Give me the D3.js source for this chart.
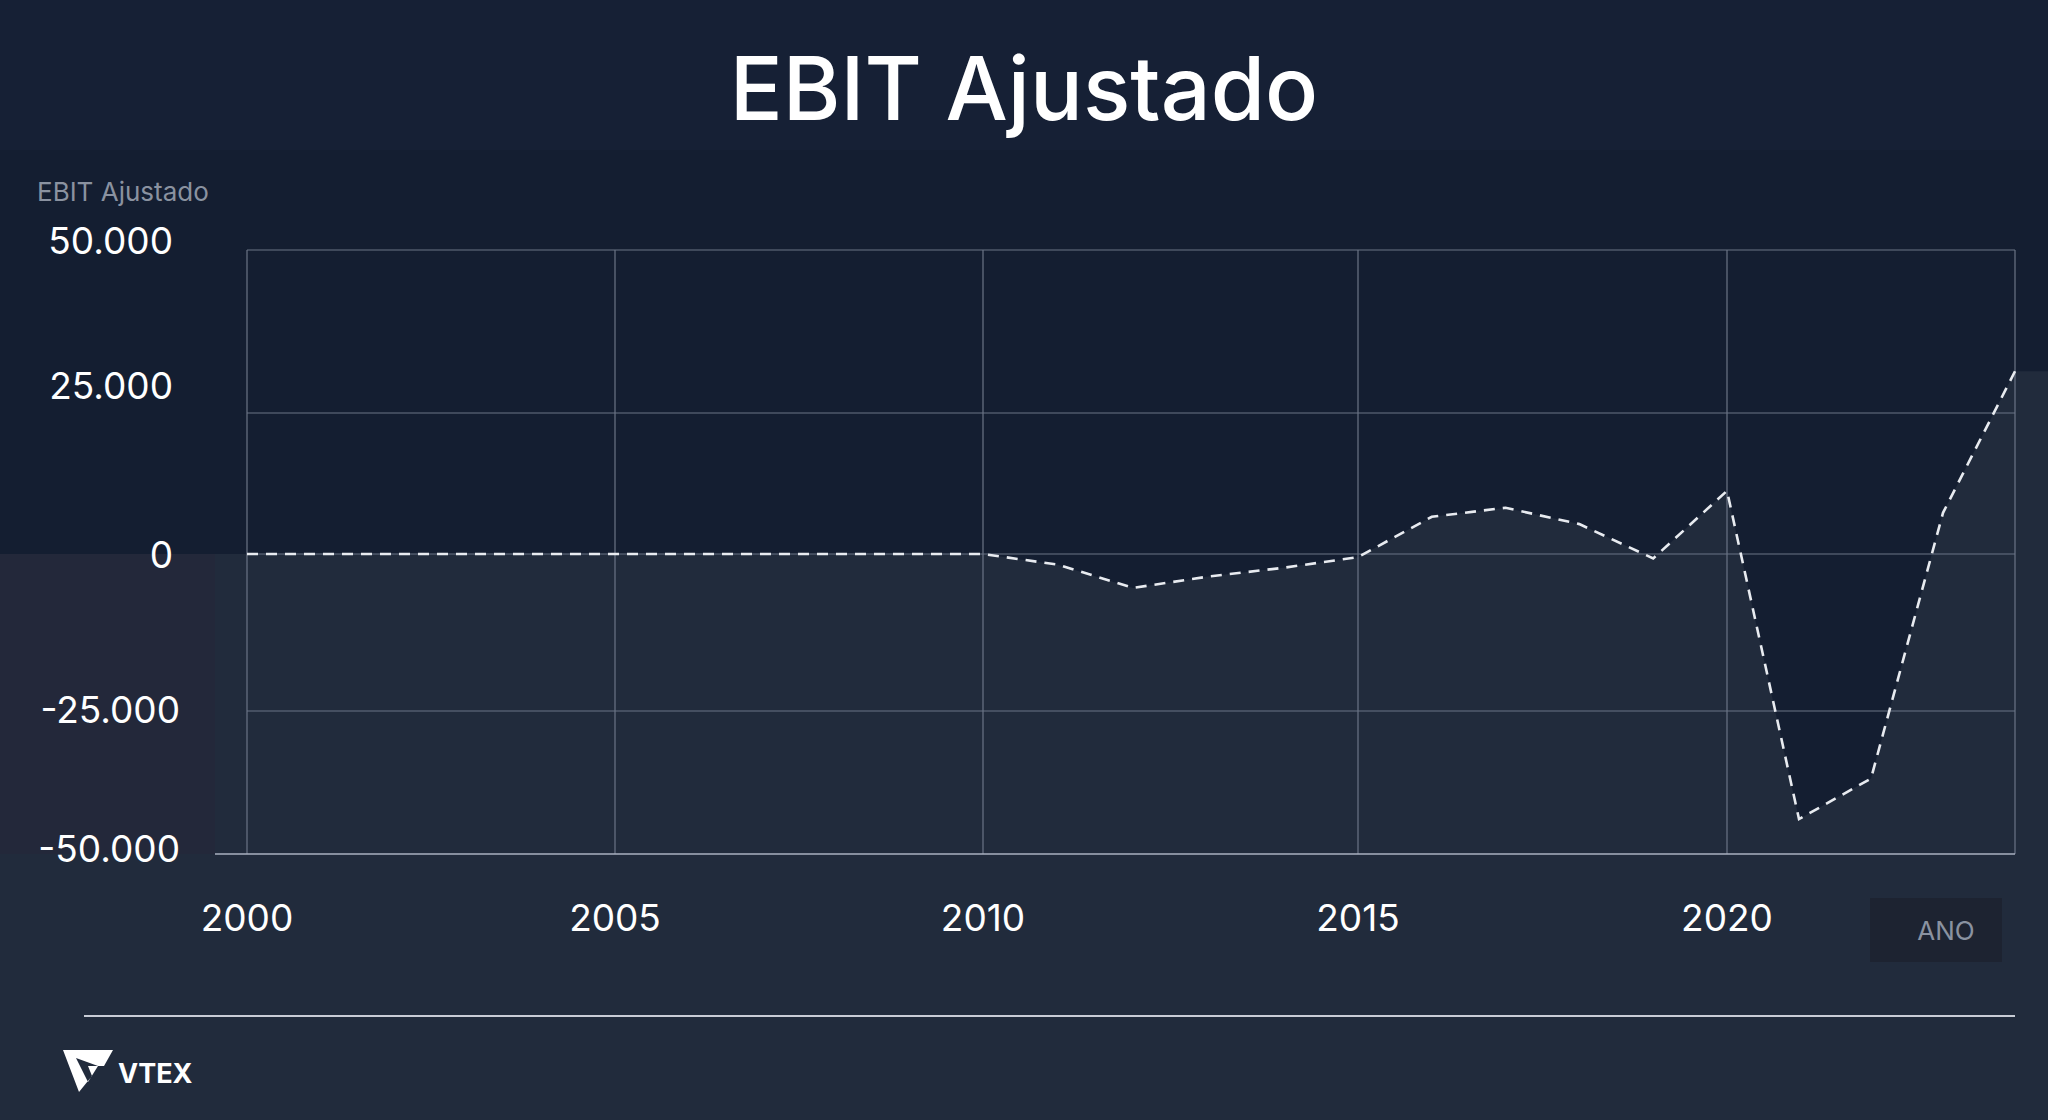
<!DOCTYPE html>
<html lang="pt">
<head>
  <meta charset="UTF-8">
  <title>EBIT Ajustado</title>
  <style>
    html, body { margin: 0; padding: 0; background: #141e31; }
    svg { display: block; }
  </style>
</head>
<body>
  <svg id="chart" width="2048" height="1120"></svg>
  <script src="https://cdn.jsdelivr.net/npm/d3@7/dist/d3.min.js"></script>
  <script>
    const years = [2000, 2001, 2002, 2003, 2004, 2005, 2006, 2007, 2008, 2009, 2010, 2011, 2012,
      2013, 2014, 2015, 2016, 2017, 2018, 2019, 2020, 2021, 2022, 2023, 2024]
    const ebit = [0, 0, 0, 0, 0, 0, 0, 0, 0, 0, 0, -1700, -5400,
      -3600, -2200, -500, 6600, 8200, 5300, -700, 11200, -43900, -36800, 7300, 31400]
    const yTicks = [-50000, -25000, 0, 25000, 50000]
    const xTicks = [2000, 2005, 2010, 2015, 2020]

    const W = 2048, H = 1120
    const m = { left: 247, right: 2015, top: 250, bottom: 854 }
    const svg = d3.select('#chart')
    const data = years.map((y, i) => ({ year: y, v: ebit[i] }))

    // escalas por partes (o gráfico original não é perfeitamente uniforme)
    const x = d3.scaleLinear().domain([2000, 2005, 2010, 2015, 2020, 2024])
      .range([m.left, 615, 983, 1358, 1727, m.right])
    const y = d3.scaleLinear().domain(yTicks).range([m.bottom, 711, 554, 413, m.top])
    const fmt = v => d3.format(',')(v).replace(/,/g, '.').replace('−', '-')

    // fundo: faixa do título e área abaixo da linha
    svg.append('rect').attr('x', 0).attr('y', 0).attr('width', W).attr('height', 150).attr('fill', '#162035')
    const ext = [{ year: 1980, v: 0 }].concat(data, [{ year: 2030, v: ebit[ebit.length - 1] }])
    const xe = d3.scaleLinear().domain([2000, 2024]).range([m.left, m.right])
    svg.append('path')
      .datum(ext)
      .attr('fill', '#212b3c')
      .attr('d', d3.area().x(d => (d.year < 2000 || d.year > 2024) ? xe(d.year) : x(d.year)).y0(H).y1(d => y(d.v)))
    svg.append('rect').attr('x', 0).attr('y', y(0)).attr('width', 215).attr('height', 300).attr('fill', '#23283a')

    // grade
    const grid = svg.append('g').attr('stroke', '#6b7486').attr('stroke-width', 1.2)
    xTicks.concat([2024]).forEach(t => {
      grid.append('line').attr('x1', x(t)).attr('x2', x(t)).attr('y1', m.top).attr('y2', m.bottom)
    })
    yTicks.slice(1).forEach(t => {
      grid.append('line').attr('x1', m.left).attr('x2', m.right).attr('y1', y(t)).attr('y2', y(t))
    })
    grid.append('line').attr('x1', 215).attr('x2', m.right).attr('y1', m.bottom).attr('y2', m.bottom)
      .attr('stroke', '#aab2c0').attr('stroke-width', 1.6)

    // linha
    svg.append('path')
      .datum(data)
      .attr('fill', 'none')
      .attr('stroke', '#e8ebf0')
      .attr('stroke-width', 2.6)
      .attr('stroke-dasharray', '11 8')
      .attr('d', d3.line().x(d => x(d.year)).y(d => y(d.v)))

    // eixos
    const font = 'Inter, "Open Sans", sans-serif'
    const yLabelShift = [-4, 0, 2, -26, -8]
    svg.append('g').selectAll('text').data(yTicks).join('text')
      .attr('x', (d, i) => d < 0 ? 180 : 173).attr('y', (d, i) => y(d) + 12 + yLabelShift[i])
      .attr('text-anchor', 'end').attr('fill', '#ffffff')
      .attr('font-family', font).attr('font-size', 37)
      .text(fmt)
    svg.append('g').selectAll('text').data(xTicks).join('text')
      .attr('x', d => x(d)).attr('y', 931)
      .attr('text-anchor', 'middle').attr('fill', '#ffffff')
      .attr('font-family', font).attr('font-size', 37)
      .text(d => d)

    svg.append('text').attr('x', 37).attr('y', 201).attr('fill', '#8a92a0')
      .attr('font-family', font).attr('font-size', 26).text('EBIT Ajustado')

    svg.append('rect').attr('x', 1870).attr('y', 898).attr('width', 132).attr('height', 64).attr('fill', '#1d2331')
    svg.append('text').attr('x', 1946).attr('y', 940).attr('text-anchor', 'middle').attr('fill', '#8a92a0')
      .attr('font-family', font).attr('font-size', 26).text('ANO')

    // título
    svg.append('text').attr('x', 1024).attr('y', 120).attr('text-anchor', 'middle').attr('fill', '#ffffff')
      .attr('font-family', font).attr('font-size', 88).attr('font-weight', 500).text('EBIT Ajustado')

    // rodapé
    svg.append('line').attr('x1', 84).attr('x2', 2015).attr('y1', 1016).attr('y2', 1016)
      .attr('stroke', '#c8ccd6').attr('stroke-width', 2)
    svg.append('path')
      .attr('d', 'M63,1050 L113,1050 L104,1066 L88,1066 L92,1076 L79,1092 Z M76,1058 L88,1082 L98,1066 Z')
      .attr('fill', '#ffffff').attr('fill-rule', 'evenodd')
    svg.append('text').attr('x', 118).attr('y', 1083).attr('fill', '#ffffff')
      .attr('font-family', font).attr('font-size', 27).attr('font-weight', 700).text('VTEX')
  </script>
</body>
</html>
